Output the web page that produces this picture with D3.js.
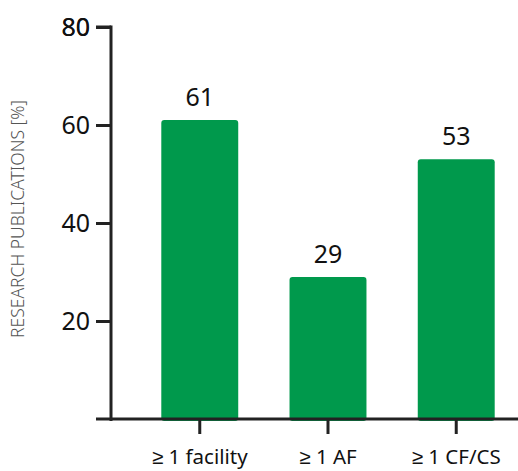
<!DOCTYPE html>
<html><head><meta charset="utf-8">
<script src="https://cdn.jsdelivr.net/npm/d3@7"></script>
<style>body{margin:0;background:#fff}</style>
</head><body>
<svg id="c" width="518" height="471"></svg>
<script>
const categories = ["≥ 1 facility", "≥ 1 AF", "≥ 1 CF/CS"];
const values = [61, 29, 53];
const yTicks = [20, 40, 60, 80];
const yTitle = "RESEARCH PUBLICATIONS [%]";

const svg = d3.select("#c");
const font = "'Source Sans Pro','Noto Sans',sans-serif";
const y = d3.scaleLinear().domain([0, 80]).range([419, 27]);
const x = d3.scaleBand().domain(categories).range([110, 546]).paddingInner(0.4).paddingOuter(0.4);

// bars
svg.selectAll("rect.bar").data(values).join("rect")
  .attr("x", (d, i) => x(categories[i]))
  .attr("y", d => y(d))
  .attr("width", x.bandwidth())
  .attr("height", d => y(0) - y(d) + 2)
  .attr("rx", 3)
  .attr("fill", "#00994c");

// value labels
svg.selectAll("text.val").data(values).join("text")
  .attr("x", (d, i) => x(categories[i]) + x.bandwidth() / 2)
  .attr("y", d => y(d) - 14)
  .attr("text-anchor", "middle")
  .attr("font-family", font).attr("font-size", 25).attr("fill", "#111")
  .text(d => d);

// y axis
const yAxis = svg.append("g").attr("transform", "translate(111,0)")
  .call(d3.axisLeft(y).tickValues(yTicks).tickSize(15).tickSizeOuter(0).tickPadding(6));
yAxis.select(".domain").remove();
yAxis.append("line").attr("x1", 0).attr("x2", 0).attr("y1", y(80) - 1.5).attr("y2", 421)
  .attr("stroke", "#222").attr("stroke-width", 3);
yAxis.append("line").attr("x1", -15).attr("x2", 0).attr("y1", y(80)).attr("y2", y(80))
  .attr("stroke", "#222").attr("stroke-width", 3);
yAxis.selectAll(".tick line").attr("stroke", "#222").attr("stroke-width", 3);
yAxis.selectAll(".tick text").attr("font-family", font).attr("font-size", 25).attr("fill", "#111");
yAxis.append("text").attr("x", -21).attr("y", y(80)).attr("dy", "0.35em")
  .attr("text-anchor", "end").attr("font-family", font).attr("font-size", 25).attr("fill", "#111").text(80);

// x axis
const xAxis = svg.append("g").attr("transform", "translate(0,419)")
  .call(d3.axisBottom(x).tickSize(15).tickSizeOuter(0).tickPadding(15));
xAxis.select(".domain").remove();
xAxis.append("line").attr("x1", 96).attr("x2", 518).attr("y1", 0).attr("y2", 0)
  .attr("stroke", "#222").attr("stroke-width", 3);
xAxis.selectAll(".tick line").attr("stroke", "#222").attr("stroke-width", 3);
xAxis.selectAll(".tick text").attr("font-family", font).attr("font-size", 20.5).attr("fill", "#111");

// y title
svg.append("text")
  .attr("transform", "translate(24,219) rotate(-90)")
  .attr("text-anchor", "middle")
  .attr("font-family", font).attr("font-size", 17.5).attr("font-weight", 300).attr("fill", "#555")
  .text(yTitle);
</script>
</body></html>
